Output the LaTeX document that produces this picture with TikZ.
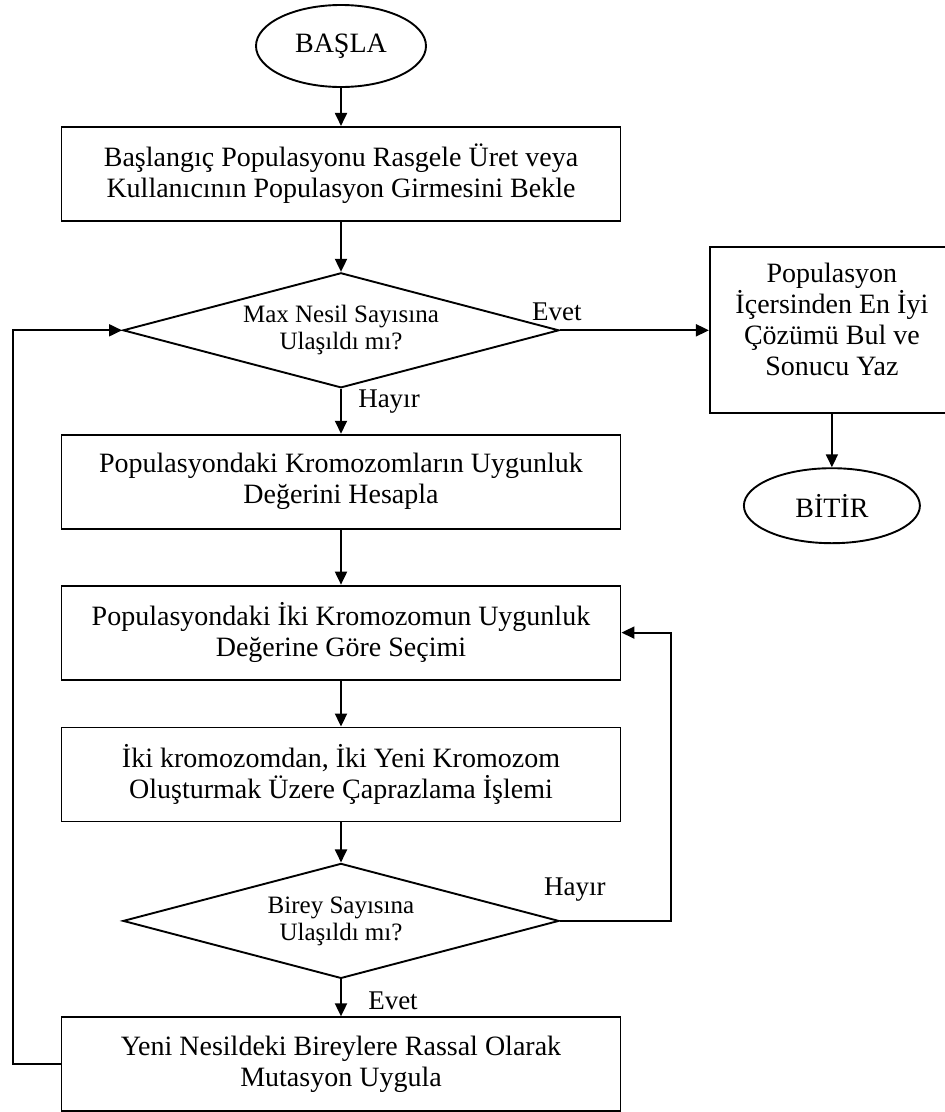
\documentclass[tikz,border=0pt]{standalone}
\usepackage{fontspec}
\setmainfont{Liberation Serif}
\usepackage{tikz}
\usetikzlibrary{positioning,arrows.meta,shapes.geometric}
\tikzset{
  kutu/.style={draw=black,line width=1.9pt,align=center,minimum width=559pt,minimum height=94pt,inner sep=4pt,font=\fontsize{28}{31}\selectfont},
  karar/.style={diamond,aspect=3.8,draw=black,line width=1.9pt,align=center,minimum width=436pt,minimum height=115pt,inner sep=0pt,font=\fontsize{25}{27}\selectfont},
  uc/.style={ellipse,draw=black,line width=1.9pt,inner sep=0pt,font=\fontsize{28}{31}\selectfont},
  ok/.style={-{Triangle[length=13pt,width=12pt]},line width=1.9pt},
  etiket/.style={font=\fontsize{27}{30}\selectfont,inner sep=0pt,anchor=base},
}
\begin{document}
\begin{tikzpicture}[x=1pt,y=1pt]
  \useasboundingbox (0,0) rectangle (945,-1112);
  \node[uc,minimum width=170pt,minimum height=82pt] (basla) at (341,-46) {BAŞLA};
  \node[kutu,below=38pt of basla] (b1) {Başlangıç Populasyonu Rasgele Üret veya\\Kullanıcının Populasyon Girmesini Bekle};
  \node[karar,below=50pt of b1] (d1) {Max Nesil Sayısına\\Ulaşıldı mı?};
  \node[kutu,below=45pt of d1] (b2) {Populasyondaki Kromozomların Uygunluk\\Değerini Hesapla};
  \node[kutu,below=55pt of b2] (b3) {Populasyondaki İki Kromozomun Uygunluk\\Değerine Göre Seçimi};
  \node[kutu,below=46pt of b3] (b4) {İki kromozomdan, İki Yeni Kromozom\\Oluşturmak Üzere Çaprazlama İşlemi};
  \node[karar,below=40pt of b4] (d2) {Birey Sayısına\\Ulaşıldı mı?};
  \node[kutu,below=37pt of d2] (b5) {Yeni Nesildeki Bireylere Rassal Olarak\\Mutasyon Uygula};
  \node[kutu,minimum width=244pt,minimum height=166pt,text depth=23pt,right=149pt of d1] (sonuc) {Populasyon\\İçersinden En İyi\\Çözümü Bul ve\\Sonucu Yaz};
  \node[uc,minimum width=176pt,minimum height=75pt,below=53pt of sonuc] (bitir) {BİTİR};
  \draw[ok] (basla) -- (b1);
  \draw[ok] (b1) -- (d1);
  \draw[ok] (d1) -- (b2);
  \draw[ok] (b2) -- (b3);
  \draw[ok] (b3) -- (b4);
  \draw[ok] (b4) -- (d2);
  \draw[ok] (d2) -- (b5);
  \draw[ok] (d1.east) -- (sonuc.west);
  \draw[ok] (sonuc) -- (bitir);
  \draw[ok] (d2.east) -- ++(111pt,0) |- (b3.east);
  \draw[ok] (b5.west) -- ++(-48pt,0) |- (d1.west);
  \node[etiket] at ([xshift=-3pt,yshift=10pt]d1.east) {Evet};
  \node[etiket] at ([xshift=48pt,yshift=-19pt]d1.south) {Hayır};
  \node[etiket] at ([xshift=15pt,yshift=25pt]d2.east) {Hayır};
  \node[etiket] at ([xshift=52pt,yshift=-30pt]d2.south) {Evet};
\end{tikzpicture}
\end{document}
